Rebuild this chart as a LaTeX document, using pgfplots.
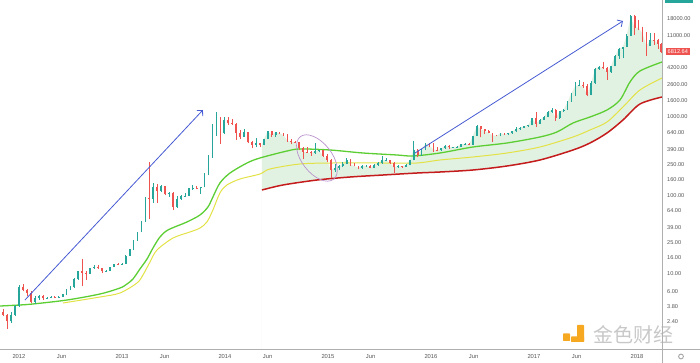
\documentclass[border=0pt]{standalone}
\usepackage{pgfplots}
\pgfplotsset{compat=1.18}
\usepackage{pgfplotstable}
\usetikzlibrary{arrows.meta}
\usepackage{fontspec}
\setmainfont{Liberation Sans}
\newfontfamily\cjk{Noto Sans CJK SC}
\definecolor{upc}{RGB}{38,166,154}
\definecolor{dnc}{RGB}{239,83,80}
\definecolor{maG}{RGB}{92,206,52}
\definecolor{maY}{RGB}{226,226,70}
\definecolor{maR}{RGB}{196,28,28}
\definecolor{fillg}{RGB}{226,242,226}
\definecolor{arrowb}{RGB}{70,90,210}
\definecolor{ellc}{RGB}{185,145,205}
\definecolor{axc}{RGB}{175,175,175}
\definecolor{lblc}{RGB}{85,85,85}
\definecolor{logo}{RGB}{245,168,32}
\definecolor{wmk}{RGB}{200,200,200}

\pgfplotstableread{
x o h l c
2011.849 3.25 3.6 2.9 3.0
2011.887 3.0 3.1 2.0 2.5
2011.926 2.5 3.3 2.4 3.0
2011.964 3.0 4.0 2.9 3.9
2012.002 3.9 7.2 3.8 6.9
2012.041 6.9 7.4 6.0 6.3
2012.079 6.3 6.5 5.3 5.7
2012.117 5.7 6.0 4.3 4.4
2012.155 4.4 5.2 4.2 4.9
2012.194 4.9 5.4 4.7 5.3
2012.232 5.3 5.4 4.7 4.9
2012.270 4.9 5.1 4.8 4.95
2012.309 4.95 5.2 4.9 5.1
2012.347 5.1 5.2 4.9 5.0
2012.385 5.0 5.2 4.95 5.1
2012.424 5.1 5.6 5.1 5.5
2012.462 5.5 6.5 5.4 6.4
2012.500 6.4 7.0 6.3 6.8
2012.538 6.8 9.0 6.7 8.6
2012.577 8.6 11.0 8.4 10.9
2012.615 10.9 15.4 7.1 10.2
2012.653 10.2 11.0 8.5 10.1
2012.692 10.1 11.9 10.0 11.8
2012.730 11.8 12.9 11.6 12.4
2012.768 12.4 12.9 11.6 11.9
2012.807 11.9 12.0 10.2 10.8
2012.845 10.8 11.2 10.5 10.9
2012.883 10.9 12.4 10.8 12.3
2012.921 12.3 13.6 12.2 13.4
2012.960 13.4 13.7 13.0 13.3
2012.998 13.3 13.8 13.2 13.6
2013.036 13.6 17.5 13.5 17.0
2013.075 17.0 21.0 16.8 20.6
2013.113 20.6 27.0 20.4 26.9
2013.151 26.9 34.5 26.5 34.3
2013.190 34.3 47.5 34.0 46.9
2013.228 46.9 95.0 46.5 93.0
2013.266 93.0 266 50 90
2013.304 90 145 80 128
2013.343 128 140 80 115
2013.381 115 135 110 131
2013.419 131 133 100 103
2013.458 103 112 97 108
2013.496 108 110 65 71
2013.534 71 98 70 89
2013.573 89 102 88 98
2013.611 98 108 96 99
2013.649 99 126 98 125
2013.687 125 136 118 126
2013.726 126 132 120 124
2013.764 124 130 105 128
2013.802 128 195 127 185
2013.841 185 330 180 315
2013.879 315 820 300 790
2013.917 790 1165 580 830
2013.956 830 1000 455 620
2013.994 620 1000 600 920
2014.032 920 1000 790 830
2014.070 830 950 800 820
2014.109 820 830 510 630
2014.147 630 680 520 560
2014.185 560 700 555 635
2014.224 635 640 460 475
2014.262 475 500 400 440
2014.300 440 540 410 460
2014.339 460 465 420 440
2014.377 440 530 435 525
2014.415 525 670 520 655
2014.453 655 665 560 595
2014.492 595 650 560 635
2014.530 635 645 605 625
2014.568 625 630 570 585
2014.607 585 600 480 500
2014.645 500 525 450 480
2014.683 480 495 465 475
2014.722 475 480 380 400
2014.760 400 420 290 360
2014.798 360 410 350 355
2014.836 355 365 320 345
2014.875 345 470 340 365
2014.913 365 385 355 375
2014.951 375 380 310 320
2014.990 320 335 270 285
2015.028 285 290 165 210
2015.066 210 255 200 225
2015.105 225 245 210 235
2015.143 235 265 230 255
2015.181 255 300 250 285
2015.219 285 295 240 248
2015.258 248 262 235 237
2015.296 237 240 215 225
2015.334 225 245 218 240
2015.373 240 245 232 240
2015.411 240 242 222 225
2015.449 225 250 222 245
2015.488 245 265 240 260
2015.526 260 315 255 280
2015.564 280 300 272 282
2015.602 282 285 255 260
2015.641 260 265 195 228
2015.679 228 245 225 235
2015.717 235 240 225 234
2015.756 234 250 233 245
2015.794 245 285 242 283
2015.832 283 500 280 380
2015.871 380 390 305 325
2015.909 325 390 320 385
2015.947 385 470 380 460
2015.985 460 465 410 430
2016.024 430 460 360 385
2016.062 385 410 365 375
2016.100 375 405 365 400
2016.139 400 445 395 430
2016.177 430 440 390 412
2016.215 412 420 405 415
2016.254 415 425 410 420
2016.292 420 455 418 450
2016.330 450 465 440 458
2016.368 458 462 435 440
2016.407 440 580 435 575
2016.445 575 780 570 760
2016.483 760 765 550 700
2016.522 700 705 610 665
2016.560 665 680 620 625
2016.598 625 630 480 585
2016.637 585 590 565 575
2016.675 575 630 570 625
2016.713 625 625 595 600
2016.751 600 620 598 617
2016.790 617 660 615 655
2016.828 655 740 650 705
2016.866 705 745 690 730
2016.905 730 770 725 765
2016.943 765 795 755 790
2016.981 790 975 785 965
2017.020 965 1150 750 820
2017.058 820 930 815 920
2017.096 920 1030 915 1000
2017.134 1000 1190 990 1170
2017.173 1170 1290 1120 1230
2017.211 1230 1250 900 960
2017.249 960 1200 950 1190
2017.288 1190 1250 1160 1240
2017.326 1240 1600 1230 1560
2017.364 1560 2050 1550 2040
2017.403 2040 2760 1850 2510
2017.441 2510 2980 2450 2520
2017.479 2520 2770 2350 2450
2017.517 2450 2650 1830 1900
2017.556 1900 2900 1880 2750
2017.594 2750 4200 2650 4100
2017.632 4100 4480 3950 4350
2017.671 4350 4980 4100 4200
2017.709 4200 4350 3000 3700
2017.747 3700 4450 3650 4440
2017.786 4440 6150 4400 6000
2017.824 6000 7600 5500 7400
2017.862 7400 7900 5600 7800
2017.900 7800 11400 7700 10900
2017.939 10900 19700 10700 19100
2017.977 19100 19800 11200 13800
2018.015 13800 17200 12800 13700
2018.054 13700 13900 9100 11500
2018.092 11500 12000 6000 8100
2018.130 8100 11800 8000 9600
2018.169 9600 11700 8300 9500
2018.207 9500 9900 7300 8500
2018.236 8500 8700 6600 6812.64
}\candles

\pgfplotstableread{
x y
2011.816 3.91
2012.010 4.03
2012.136 4.15
2012.466 4.66
2012.786 5.56
2012.981 6.63
2013.049 7.46
2013.107 8.64
2013.175 11.6
2013.243 15.5
2013.301 21.4
2013.369 29.6
2013.447 36.4
2013.631 46.0
2013.757 56.4
2013.835 71.4
2013.883 95.7
2013.951 144.2
2014.049 193.4
2014.214 259.4
2014.340 300.5
2014.602 368.7
2014.728 391.3
2015.019 380
2015.340 347.8
2015.670 328.1
2015.825 318.6
2016.087 347.8
2016.408 414.8
2016.738 466.5
2017.058 556.2
2017.223 644.1
2017.379 838.6
2017.544 1000
2017.709 1228
2017.835 1647
2017.932 2792
2018.029 3855
2018.243 5019
}\magreen

\pgfplotstableread{
x y
2012.427 4.27
2012.786 5.09
2012.981 5.73
2013.146 7.68
2013.204 9.71
2013.272 14.2
2013.340 20.2
2013.495 28.7
2013.660 34.3
2013.757 38.5
2013.825 46.0
2013.883 65.3
2013.951 107.6
2014.019 136.1
2014.146 162.2
2014.340 187.9
2014.437 217.6
2014.728 252
2015.049 259.4
2015.534 259.4
2015.864 259.4
2016.087 283.3
2016.408 309.4
2016.738 347.8
2017.058 414.8
2017.379 556.2
2017.544 683.2
2017.709 863.5
2017.864 1341
2018.029 2208
2018.243 3139
}\mayellow

\pgfplotstableread{
x y
2014.359 117.5
2014.563 136.1
2014.893 157.5
2015.214 172
2015.534 182.4
2015.864 193.4
2016.087 199.2
2016.408 211.3
2016.738 237.6
2017.058 283.3
2017.379 380
2017.544 466.5
2017.709 625.5
2017.864 915.7
2018.029 1464
2018.243 1798
}\mared

% shaded band: price closes from mid-2014 forward, then the red average backward
\pgfplotstableread{
x y
2014.359 440
2014.377 525
2014.415 655
2014.453 595
2014.492 635
2014.530 625
2014.568 585
2014.607 500
2014.645 480
2014.683 475
2014.722 400
2014.760 360
2014.798 355
2014.836 345
2014.875 365
2014.913 375
2014.951 320
2014.990 285
2015.028 210
2015.066 225
2015.105 235
2015.143 255
2015.181 285
2015.219 248
2015.258 237
2015.296 225
2015.334 240
2015.373 240
2015.411 225
2015.449 245
2015.488 260
2015.526 280
2015.564 282
2015.602 260
2015.641 228
2015.679 235
2015.717 234
2015.756 245
2015.794 283
2015.832 380
2015.871 325
2015.909 385
2015.947 460
2015.985 430
2016.024 385
2016.062 375
2016.100 400
2016.139 430
2016.177 412
2016.215 415
2016.254 420
2016.292 450
2016.330 458
2016.368 440
2016.407 575
2016.445 760
2016.483 700
2016.522 665
2016.560 625
2016.598 585
2016.637 575
2016.675 625
2016.713 600
2016.751 617
2016.790 655
2016.828 705
2016.866 730
2016.905 765
2016.943 790
2016.981 965
2017.020 820
2017.058 920
2017.096 1000
2017.134 1170
2017.173 1230
2017.211 960
2017.249 1190
2017.288 1240
2017.326 1560
2017.364 2040
2017.403 2510
2017.441 2520
2017.479 2450
2017.517 1900
2017.556 2750
2017.594 4100
2017.632 4350
2017.671 4200
2017.709 3700
2017.747 4440
2017.786 6000
2017.824 7400
2017.862 7800
2017.900 10900
2017.939 19100
2017.977 13800
2018.015 13700
2018.054 11500
2018.092 8100
2018.130 9600
2018.169 9500
2018.207 8500
2018.243 6812.64
2018.243 1798
2018.029 1464
2017.864 915.7
2017.709 625.5
2017.544 466.5
2017.379 380
2017.058 283.3
2016.738 237.6
2016.408 211.3
2016.087 199.2
2015.864 193.4
2015.534 182.4
2015.214 172
2014.893 157.5
2014.563 136.1
2014.359 117.5
}\band

\begin{document}
\begin{tikzpicture}
\useasboundingbox (0,0) rectangle (700bp,363bp);
% watermark (behind everything)
\fill[logo, rounded corners=0.6bp] (577bp,21bp) rectangle (584bp,38bp);
\fill[logo, rounded corners=0.6bp] (571bp,21bp) rectangle (584bp,26.5bp);
\fill[logo, rounded corners=0.6bp] (563bp,22bp) rectangle (570bp,29.5bp);
\node[text=wmk, font=\cjk\fontsize{20bp}{20bp}\selectfont, inner sep=0pt, anchor=west] at (593bp,28.5bp) {金色财经};
\begin{axis}[
  at={(0,13bp)}, anchor=south west,
  scale only axis, width=662bp, height=350bp,
  xmin=2011.816, xmax=2018.243,
  ymode=log, ymin=1.076, ymax=30930,
  axis line style={draw=none},
  major tick length=0pt, minor tick length=0pt,
  yminorticks=false,
  xtick={2012,2012.414,2013,2013.414,2014,2014.414,2015,2015.414,2016,2016.414,2017,2017.414,2018},
  xticklabels={2012,Jun,2013,Jun,2014,Jun,2015,Jun,2016,Jun,2017,Jun,2018},
  ytick={3.8,6,10,16,25,39,64,100,160,250,390,640,1000,1600,2600,4200,11000,18000},
  yticklabels={3.80,6.00,10.00,16.00,25.00,39.00,64.00,100.00,160.00,250.00,390.00,640.00,1000.00,1600.00,2600.00,4200.00,11000.00,18000.00},
  ytick pos=right, yticklabel pos=right, xtick pos=bottom,
  yticklabel style={anchor=west, inner sep=0pt, xshift=5bp, font=\fontsize{5.6bp}{6bp}\selectfont, text=lblc},
  xticklabel style={anchor=north, inner sep=0pt, yshift=-4.5bp, font=\fontsize{5.8bp}{6bp}\selectfont, text=lblc},
]
% shaded band
\addplot[fill=fillg, draw=none, forget plot] table[x=x, y=y] {\band} \closedcycle;
% moving averages
\addplot[maG, line width=1.3bp, smooth, forget plot] table[x=x, y=y] {\magreen};
\addplot[maY, line width=1bp, smooth, forget plot] table[x=x, y=y] {\mayellow};
\addplot[maR, line width=1.5bp, smooth, forget plot] table[x=x, y=y] {\mared};
% wicks
\addplot[draw=none, mark=none, forget plot,
  error bars/.cd, y dir=plus, y explicit, error mark=none,
  error bar style={draw=upc, line width=0.5bp, solid}]
  table[x=x, y=l, y error expr={\thisrow{c}<\thisrow{o} ? 0 : \thisrow{h}-\thisrow{l}}] {\candles};
\addplot[draw=none, mark=none, forget plot,
  error bars/.cd, y dir=plus, y explicit, error mark=none,
  error bar style={draw=dnc, line width=0.5bp, solid}]
  table[x=x, y=l, y error expr={\thisrow{c}<\thisrow{o} ? \thisrow{h}-\thisrow{l} : 0}] {\candles};
% bodies
\addplot[draw=none, mark=none, forget plot,
  error bars/.cd, y dir=plus, y explicit, error mark=none,
  error bar style={draw=upc, line width=1.8bp, solid}]
  table[x=x, y=o, y error expr={\thisrow{c}<\thisrow{o} ? 0 : \thisrow{c}-\thisrow{o}}] {\candles};
\addplot[draw=none, mark=none, forget plot,
  error bars/.cd, y dir=plus, y explicit, error mark=none,
  error bar style={draw=dnc, line width=1.8bp, solid}]
  table[x=x, y=c, y error expr={\thisrow{c}<\thisrow{o} ? \thisrow{o}-\thisrow{c} : 0}] {\candles};
% annotations
\addplot[arrowb, line width=0.8bp, -{Straight Barb[length=4bp,width=8bp]}, forget plot] coordinates {(2012.058,4.66) (2013.786,1228)};
\addplot[arrowb, line width=0.8bp, -{Straight Barb[length=4bp,width=8bp]}, forget plot] coordinates {(2015.845,347.8) (2017.864,16700)};
\coordinate (ell) at (axis cs:2014.893,300.5);
\coordinate (lastp) at (axis cs:2018.243,6812.64);
\coordinate (lowtick) at (axis cs:2018.243,2.4);
\end{axis}
\draw[ellc, line width=0.7bp, rotate around={-52:(ell)}] (ell) ellipse [x radius=27bp, y radius=15bp];
\node[fill=dnc, text=white, font=\fontsize{5.6bp}{6bp}\selectfont, inner xsep=2bp, inner ysep=1.6bp, anchor=west, xshift=3.5bp] at (lastp) {6812.64};
% lowest price tick, set above the watermark
\node[text=lblc, font=\fontsize{5.6bp}{6bp}\selectfont, inner sep=0pt, anchor=south west, xshift=5bp, yshift=-1.6bp] at (lowtick) {2.40};
% frame lines
\draw[axc, line width=1bp] (0,13bp) -- (700bp,13bp);
\draw[axc, line width=1bp] (662bp,0) -- (662bp,363bp);
\fill[upc] (665bp,360bp) rectangle (693bp,364bp);
% settings icon
\draw[gray!70, line width=0.9bp] (681bp,6.5bp) circle (2.4bp);
\end{tikzpicture}
\end{document}
